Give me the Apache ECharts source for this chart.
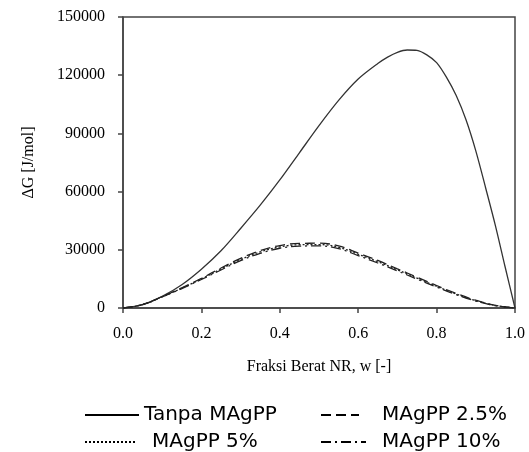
<!DOCTYPE html>
<html>
<head>
<meta charset="utf-8">
<script src="https://cdn.jsdelivr.net/npm/echarts@6/dist/echarts.min.js"></script>
<style>
  html, body { margin: 0; padding: 0; background: #fff; }
</style>
</head>
<body>
<div id="echarts" style="width: 529px; height: 452px"></div>
<script>
// fraksi berat NR (kurva tanpa MAgPP dibaca lebih rapat di dekat puncak)
const wTanpa = [0, 0.05, 0.1, 0.15, 0.2, 0.25, 0.3, 0.35, 0.4, 0.45, 0.5,
  0.55, 0.6, 0.65, 0.675, 0.7, 0.725, 0.75, 0.775, 0.8, 0.825, 0.85, 0.875,
  0.9, 0.925, 0.95, 0.975, 1.0];
const tanpa = [0, 1800, 6000, 12000, 20000, 29500, 41000, 53000, 66000, 80000, 94000,
  107000, 118000, 126000, 129300, 131800, 133000, 132800, 130500, 126500, 119000, 109500, 97000,
  81000, 62000, 42500, 21000, 0];

const wFrac = [0, 0.05, 0.1, 0.15, 0.2, 0.25, 0.3, 0.35, 0.4, 0.45, 0.5,
  0.55, 0.6, 0.65, 0.7, 0.75, 0.8, 0.85, 0.9, 0.95, 1.0];
const magpp25 = [0, 1800, 5900, 10400, 15300, 20600, 25600, 29600, 32200, 33300, 33400,
  32000, 28300, 24500, 20200, 15900, 11600, 7500, 4000, 1400, 0];
const magpp5 = [0, 1750, 5800, 10200, 15000, 20100, 25000, 28900, 31500, 32600, 32700,
  31300, 27700, 23900, 19700, 15400, 11200, 7200, 3800, 1300, 0];
const magpp10 = [0, 1700, 5700, 10000, 14700, 19600, 24400, 28200, 30800, 31900, 32000,
  30600, 27000, 23200, 19100, 14900, 10800, 6900, 3600, 1200, 0];

const seriesNames = ['Tanpa MAgPP', 'MAgPP 2.5%', 'MAgPP 5%', 'MAgPP 10%'];

function pairs(xs, ys) {
  return xs.map((w, i) => [w, ys[i]]);
}

let myChart = echarts.init(document.getElementById('echarts'));

const serif = '"Liberation Serif", "Times New Roman", serif';
const sans = '"DejaVu Sans", Verdana, sans-serif';

function legendAt(name, left, top, width, gap) {
  return {
    data: [name],
    left: left,
    top: top,
    itemWidth: width,
    itemHeight: 14,
    selectedMode: false,
    itemStyle: { opacity: 0 },
    lineStyle: { width: 2, color: '#000' },
    textStyle: {
      fontFamily: sans,
      fontSize: 20,
      color: '#000',
      padding: [0, 0, 0, gap]
    }
  };
}

myChart.setOption({
  animation: false,
  grid: {
    left: 123,
    right: 14,
    top: 17,
    bottom: 144,
    show: true,
    borderColor: '#444',
    borderWidth: 1.5
  },
  legend: [
    legendAt(seriesNames[0], 79, 400, 54, 0),
    legendAt(seriesNames[1], 315, 400, 38, 18),
    legendAt(seriesNames[2], 79, 427, 51, 11),
    legendAt(seriesNames[3], 315, 427, 45, 11)
  ],
  xAxis: {
    type: 'value',
    min: 0,
    max: 1,
    interval: 0.2,
    name: 'Fraksi Berat NR, w [-]',
    nameLocation: 'middle',
    nameGap: 51,
    nameTextStyle: { fontFamily: serif, fontSize: 16, color: '#000' },
    axisLine: { show: true, lineStyle: { color: '#444', width: 1.5 } },
    axisTick: { show: true, inside: false, length: 5, lineStyle: { color: '#444', width: 1.5 } },
    axisLabel: {
      margin: 18,
      fontFamily: serif,
      fontSize: 16,
      color: '#000',
      formatter: v => v.toFixed(1)
    },
    splitLine: { show: false }
  },
  yAxis: {
    type: 'value',
    min: 0,
    max: 150000,
    interval: 30000,
    name: 'ΔG [J/mol]',
    nameLocation: 'middle',
    nameGap: 86,
    nameTextStyle: { fontFamily: serif, fontSize: 16, color: '#000' },
    axisLine: { show: true, lineStyle: { color: '#444', width: 1.5 } },
    axisTick: { show: true, inside: false, length: 5, lineStyle: { color: '#444', width: 1.5 } },
    axisLabel: {
      margin: 18,
      fontFamily: serif,
      fontSize: 16,
      color: '#000',
      formatter: v => String(v)
    },
    splitLine: { show: false }
  },
  series: [
    {
      name: seriesNames[0],
      type: 'line',
      smooth: 0.3,
      symbol: 'none',
      data: pairs(wTanpa, tanpa),
      lineStyle: { color: '#333', width: 1.3, type: 'solid' }
    },
    {
      name: seriesNames[1],
      type: 'line',
      smooth: 0.4,
      symbol: 'none',
      data: pairs(wFrac, magpp25),
      lineStyle: { color: '#222', width: 1.3, type: [10, 5] }
    },
    {
      name: seriesNames[2],
      type: 'line',
      smooth: 0.4,
      symbol: 'none',
      data: pairs(wFrac, magpp5),
      lineStyle: { color: '#222', width: 1.3, type: [2, 2] }
    },
    {
      name: seriesNames[3],
      type: 'line',
      smooth: 0.4,
      symbol: 'none',
      data: pairs(wFrac, magpp10),
      lineStyle: { color: '#222', width: 1.3, type: [10, 4, 2, 4] }
    }
  ]
});
</script>
</body>
</html>
